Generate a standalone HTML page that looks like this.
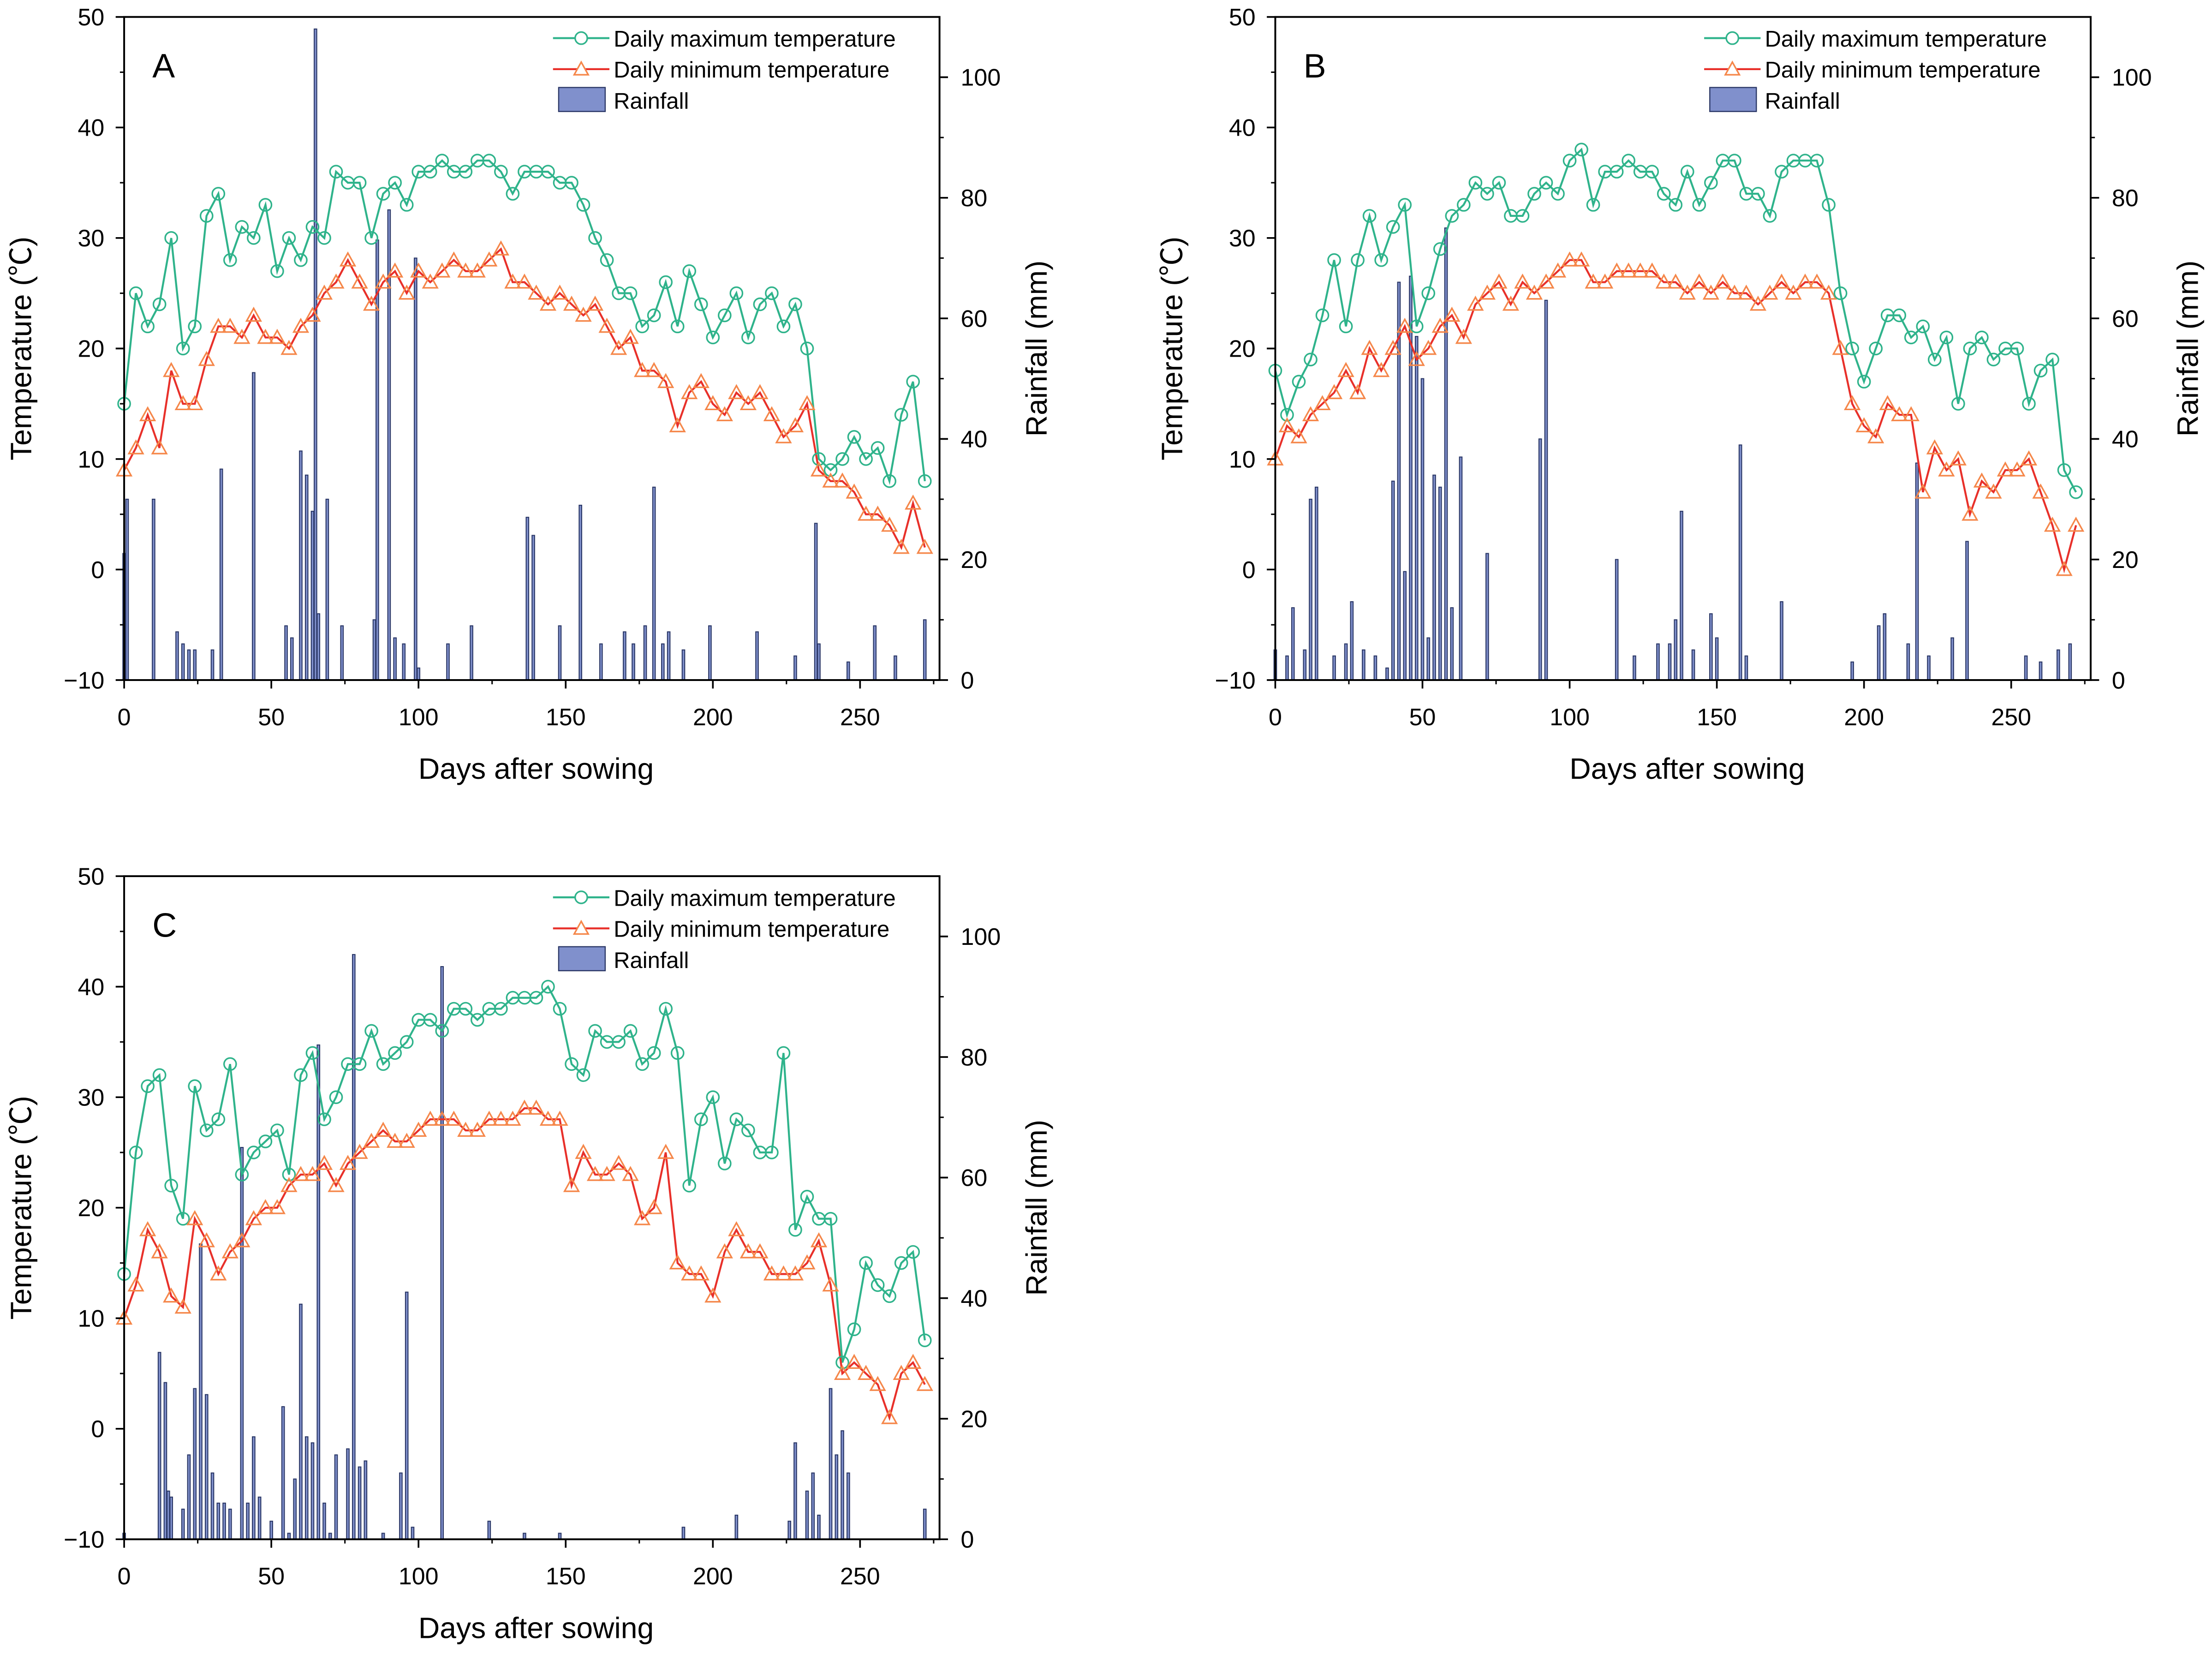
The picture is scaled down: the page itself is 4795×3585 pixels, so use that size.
<!DOCTYPE html>
<html><head><meta charset="utf-8">
<style>
html,body{margin:0;padding:0;background:#fff;}
svg{display:block;font-family:"Liberation Sans","Noto Sans CJK SC",sans-serif;}
</style></head>
<body>
<svg id="fig" width="4795" height="3585" viewBox="0 0 1568 1172.3" xmlns="http://www.w3.org/2000/svg"></svg>
<script>
// ---- shared day categories (every 4 days) ----
const days = [0,4,8,12,16,20,24,28,32,36,40,44,48,52,56,60,64,68,72,76,80,84,88,92,96,100,104,108,112,116,120,124,128,132,136,140,144,148,152,156,160,164,168,172,176,180,184,188,192,196,200,204,208,212,216,220,224,228,232,236,240,244,248,252,256,260,264,268,272];
const xTicks = [0,50,100,150,200,250];
const yTicks = [-10,0,10,20,30,40,50];
const rTicks = [0,20,40,60,80,100];

// ---- Panel A ----
const aMax = [15,25,22,24,30,20,22,32,34,28,31,30,33,27,30,28,31,30,36,35,35,30,34,35,33,36,36,37,36,36,37,37,36,34,36,36,36,35,35,33,30,28,25,25,22,23,26,22,27,24,21,23,25,21,24,25,22,24,20,10,9,10,12,10,11,8,14,17,8];
const aMin = [9,11,14,11,18,15,15,19,22,22,21,23,21,21,20,22,23,25,26,28,26,24,26,27,25,27,26,27,28,27,27,28,29,26,26,25,24,25,24,23,24,22,20,21,18,18,17,13,16,17,15,14,16,15,16,14,12,13,15,9,8,8,7,5,5,4,2,6,2];
const aRainDays = [0,1,10,18,20,22,24,30,33,44,55,57,60,62,64,65,66,69,74,85,86,90,92,95,99,100,110,118,137,139,148,155,162,170,173,177,180,183,185,190,199,215,228,235,236,246,255,262,272];
const aRainVals = [21,30,30,8,6,5,5,5,35,51,9,7,38,34,28,108,11,30,9,10,73,78,7,6,70,2,6,9,27,24,9,29,6,8,6,9,32,6,8,5,9,8,4,26,6,3,9,4,10];

// ---- Panel B ----
const bMax = [18,14,17,19,23,28,22,28,32,28,31,33,22,25,29,32,33,35,34,35,32,32,34,35,34,37,38,33,36,36,37,36,36,34,33,36,33,35,37,37,34,34,32,36,37,37,37,33,25,20,17,20,23,23,21,22,19,21,15,20,21,19,20,20,15,18,19,9,7];
const bMin = [10,13,12,14,15,16,18,16,20,18,20,22,19,20,22,23,21,24,25,26,24,26,25,26,27,28,28,26,26,27,27,27,27,26,26,25,26,25,26,25,25,24,25,26,25,26,26,25,20,15,13,12,15,14,14,7,11,9,10,5,8,7,9,9,10,7,4,0,4];
const bRainDays = [0,4,6,10,12,14,20,24,26,30,34,38,40,42,44,46,48,50,52,54,56,58,60,63,72,90,92,116,122,130,134,136,138,142,148,150,158,160,172,196,205,207,215,218,222,230,235,255,260,266,270];
const bRainVals = [5,4,12,5,30,32,4,6,13,5,4,2,33,66,18,67,57,50,7,34,32,75,12,37,21,40,63,20,4,6,6,10,28,5,11,7,39,4,13,3,9,11,6,36,4,7,23,4,3,5,6];

// ---- Panel C ----
const cMax = [14,25,31,32,22,19,31,27,28,33,23,25,26,27,23,32,34,28,30,33,33,36,33,34,35,37,37,36,38,38,37,38,38,39,39,39,40,38,33,32,36,35,35,36,33,34,38,34,22,28,30,24,28,27,25,25,34,18,21,19,19,6,9,15,13,12,15,16,8];
const cMin = [10,13,18,16,12,11,19,17,14,16,17,19,20,20,22,23,23,24,22,24,25,26,27,26,26,27,28,28,28,27,27,28,28,28,29,29,28,28,22,25,23,23,24,23,19,20,25,15,14,14,12,16,18,16,16,14,14,14,15,17,13,5,6,5,4,1,5,6,4];
const cRainDays = [0,12,14,15,16,20,22,24,26,28,30,32,34,36,40,42,44,46,50,54,56,58,60,62,64,66,68,70,72,76,78,80,82,88,94,96,98,108,124,136,148,190,208,226,228,232,234,236,240,242,244,246,272];
const cRainVals = [1,31,26,8,7,5,14,25,49,24,11,6,6,5,65,6,17,7,3,22,1,10,39,17,16,82,6,1,14,15,97,12,13,1,11,41,2,95,3,1,1,2,4,3,16,8,11,4,25,14,18,11,5];

const NS = "http://www.w3.org/2000/svg";
const fig = document.getElementById('fig');
function mk(tag, attrs, parent){
  const e = document.createElementNS(NS, tag);
  for (const k in attrs) e.setAttribute(k, attrs[k]);
  (parent||fig).appendChild(e);
  return e;
}

function drawPanel(name, letter, x0, y0, maxArr, minArr, rDays, rVals){
  const W = 578, H = 470;
  const x1 = x0 + W, y1 = y0 + H;
  const xs = d => x0 + d * (W / 277);
  const ys = t => y1 - (t + 10) * (H / 60);
  const yr = r => y1 - r * (H / 110);
  const g = mk('g', {});
  
  

  // rainfall bars
  const bars = mk('g', {}, g);
  
  
  for (let i = 0; i < rDays.length; i++){
    const b = mk('rect', {x: xs(rDays[i]) - 0.9, y: yr(rVals[i]), width: 1.8, height: y1 - yr(rVals[i]), fill: '#8090cc', stroke: '#2a3766', 'stroke-width': 0.7}, bars);
    
    
  }

  // max line
  let p = maxArr.map((v,i) => (i ? 'L' : 'M') + xs(days[i]).toFixed(1) + ' ' + ys(v).toFixed(1)).join(' ');
  const lmax = mk('path', {d: p, fill: 'none', stroke: '#2fb38b', 'stroke-width': 1.4}, g);
  
  
  p = minArr.map((v,i) => (i ? 'L' : 'M') + xs(days[i]).toFixed(1) + ' ' + ys(v).toFixed(1)).join(' ');
  const lmin = mk('path', {d: p, fill: 'none', stroke: '#e8302a', 'stroke-width': 1.4}, g);
  
  

  for (let i = 0; i < days.length; i++){
    const c = mk('circle', {cx: xs(days[i]), cy: ys(maxArr[i]), r: 4.3, fill: 'none', stroke: '#2fb38b', 'stroke-width': 1.1}, g);
    
    
    const cx = xs(days[i]), cy = ys(minArr[i]);
    const t = mk('polygon', {points: `${cx},${cy-5} ${cx-5},${cy+4} ${cx+5},${cy+4}`, fill: 'none', stroke: '#f5874a', 'stroke-width': 1.1}, g);
    
    
  }

  // frame
  const fr = mk('rect', {x: x0, y: y0, width: W, height: H, fill: 'none', stroke: '#000', 'stroke-width': 1.3}, g);
  
  

  // ticks
  xTicks.forEach(d => {
    mk('line', {x1: xs(d), y1: y1, x2: xs(d), y2: y1 + 6, stroke: '#000', 'stroke-width': 1.2}, g);
    const t = mk('text', {x: xs(d), y: y1 + 32, 'font-size': 17, 'text-anchor': 'middle'}, g);
    t.textContent = d;
    
    
  });
  for (let d = 25; d < 277; d += 50) mk('line', {x1: xs(d), y1: y1, x2: xs(d), y2: y1 + 3, stroke: '#000', 'stroke-width': 1}, g);
  yTicks.forEach(v => {
    mk('line', {x1: x0 - 6, y1: ys(v), x2: x0, y2: ys(v), stroke: '#000', 'stroke-width': 1.2}, g);
    const t = mk('text', {x: x0 - 14, y: ys(v) + 6, 'font-size': 17, 'text-anchor': 'end'}, g);
    t.textContent = v === -10 ? '\u221210' : v;
    
    
  });
  for (let v = -5; v < 50; v += 10) mk('line', {x1: x0 - 3, y1: ys(v), x2: x0, y2: ys(v), stroke: '#000', 'stroke-width': 1}, g);
  rTicks.forEach(v => {
    mk('line', {x1: x1, y1: yr(v), x2: x1 + 6, y2: yr(v), stroke: '#000', 'stroke-width': 1.2}, g);
    const t = mk('text', {x: x1 + 15, y: yr(v) + 6, 'font-size': 17, 'text-anchor': 'start'}, g);
    t.textContent = v;
    
    
  });
  for (let v = 10; v < 110; v += 20) mk('line', {x1: x1, y1: yr(v), x2: x1 + 3, y2: yr(v), stroke: '#000', 'stroke-width': 1}, g);

  // titles
  let t = mk('text', {x: x0 + 292, y: y1 + 70, 'font-size': 21, 'text-anchor': 'middle'}, g);
  t.textContent = 'Days after sowing';
  
  
  t = mk('text', {x: 0, y: 0, 'font-size': 21, 'text-anchor': 'middle', transform: `translate(${x0-66},${y0+235}) rotate(-90)`}, g);
  t.textContent = 'Temperature (\u2103)';
  
  
  t = mk('text', {x: 0, y: 0, 'font-size': 21, 'text-anchor': 'middle', transform: `translate(${x1+76},${y0+235}) rotate(-90)`}, g);
  t.textContent = 'Rainfall (mm)';
  
  
  t = mk('text', {x: x0 + 20, y: y0 + 43, 'font-size': 24}, g);
  t.textContent = letter;
  
  

  // legend
  const lg = mk('g', {}, g);
  
  
  const lx = x0 + 304;
  mk('line', {x1: lx, y1: y0 + 15, x2: lx + 40, y2: y0 + 15, stroke: '#2fb38b', 'stroke-width': 1.4}, lg);
  mk('circle', {cx: lx + 20, cy: y0 + 15, r: 4.3, fill: '#fff', stroke: '#2fb38b', 'stroke-width': 1.1}, lg);
  mk('line', {x1: lx, y1: y0 + 37, x2: lx + 40, y2: y0 + 37, stroke: '#e8302a', 'stroke-width': 1.4}, lg);
  mk('polygon', {points: `${lx+20},${y0+32} ${lx+15},${y0+41} ${lx+25},${y0+41}`, fill: '#fff', stroke: '#f5874a', 'stroke-width': 1.1}, lg);
  mk('rect', {x: lx + 4, y: y0 + 50, width: 33, height: 17, fill: '#8090cc', stroke: '#2a3766', 'stroke-width': 0.8}, lg);
  const labels = ['Daily maximum temperature', 'Daily minimum temperature', 'Rainfall'];
  labels.forEach((s, i) => {
    const e = mk('text', {x: lx + 43, y: y0 + 21 + i * 22, 'font-size': 16}, lg);
    e.textContent = s;
    
    
  });
}

drawPanel('a', 'A', 88, 12, aMax, aMin, aRainDays, aRainVals);
drawPanel('b', 'B', 904, 12, bMax, bMin, bRainDays, bRainVals);
drawPanel('c', 'C', 88, 621, cMax, cMin, cRainDays, cRainVals);
</script>
</body></html>
